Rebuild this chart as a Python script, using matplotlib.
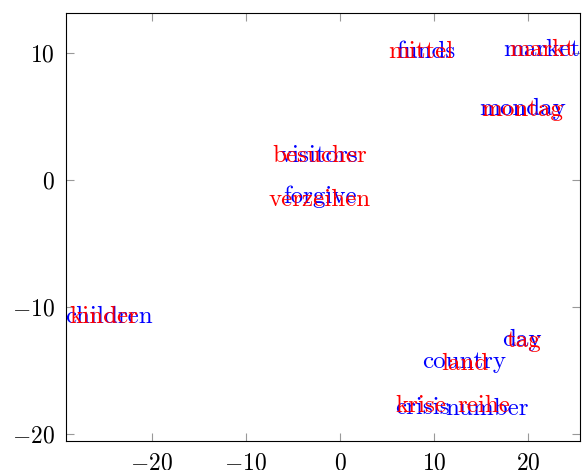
import matplotlib
matplotlib.use("Agg")
import matplotlib.pyplot as plt

plt.rcParams['font.family'] = 'serif'
plt.rcParams['font.serif'] = ['cmr10', 'DejaVu Serif']
plt.rcParams['mathtext.fontset'] = 'cm'
plt.rcParams['axes.formatter.use_mathtext'] = True

# English words (blue), baseline positions
en_words = ['funds', 'market', 'monday', 'visitors', 'forgive', 'children',
            'day', 'country', 'crisis', 'number']
en_x = [9.15, 21.4, 19.4, -2.2, -2.1, -24.5, 19.3, 13.2, 8.7, 15.6]
en_y = [9.6, 9.7, 5.05, 1.4, -1.8, -11.3, -13.1, -14.8, -18.4, -18.5]

# German words (red), baseline positions
de_words = ['mittel', 'markt', 'montag', 'besucher', 'verzeihen', 'kinder',
            'tag', 'land', 'krise', 'reihe']
de_x = [8.6, 21.5, 19.3, -2.2, -2.2, -25.1, 19.5, 13.3, 8.6, 15.3]
de_y = [9.55, 9.7, 5.0, 1.4, -2.05, -11.25, -13.15, -14.95, -18.25, -18.25]

fig = plt.figure(figsize=(5.82, 4.70), dpi=100)
ax = fig.add_axes([0.113, 0.062, 0.884, 0.910])

for w, x, y in zip(en_words, en_x, en_y):
    ax.text(x, y, w, color='blue', fontsize=18, ha='center', va='baseline')
for w, x, y in zip(de_words, de_x, de_y):
    ax.text(x, y, w, color='red', fontsize=18, ha='center', va='baseline')

ax.set_xlim(-29.1, 25.5)
ax.set_ylim(-20.55, 13.1)
ax.set_xticks([-20, -10, 0, 10, 20])
ax.set_yticks([-20, -10, 0, 10])
ax.tick_params(direction='in', length=6, color='#999999', labelsize=17,
               top=True, right=True, pad=8)
for s in ax.spines.values():
    s.set_linewidth(0.8)

fig.savefig('out.png', dpi=100)
